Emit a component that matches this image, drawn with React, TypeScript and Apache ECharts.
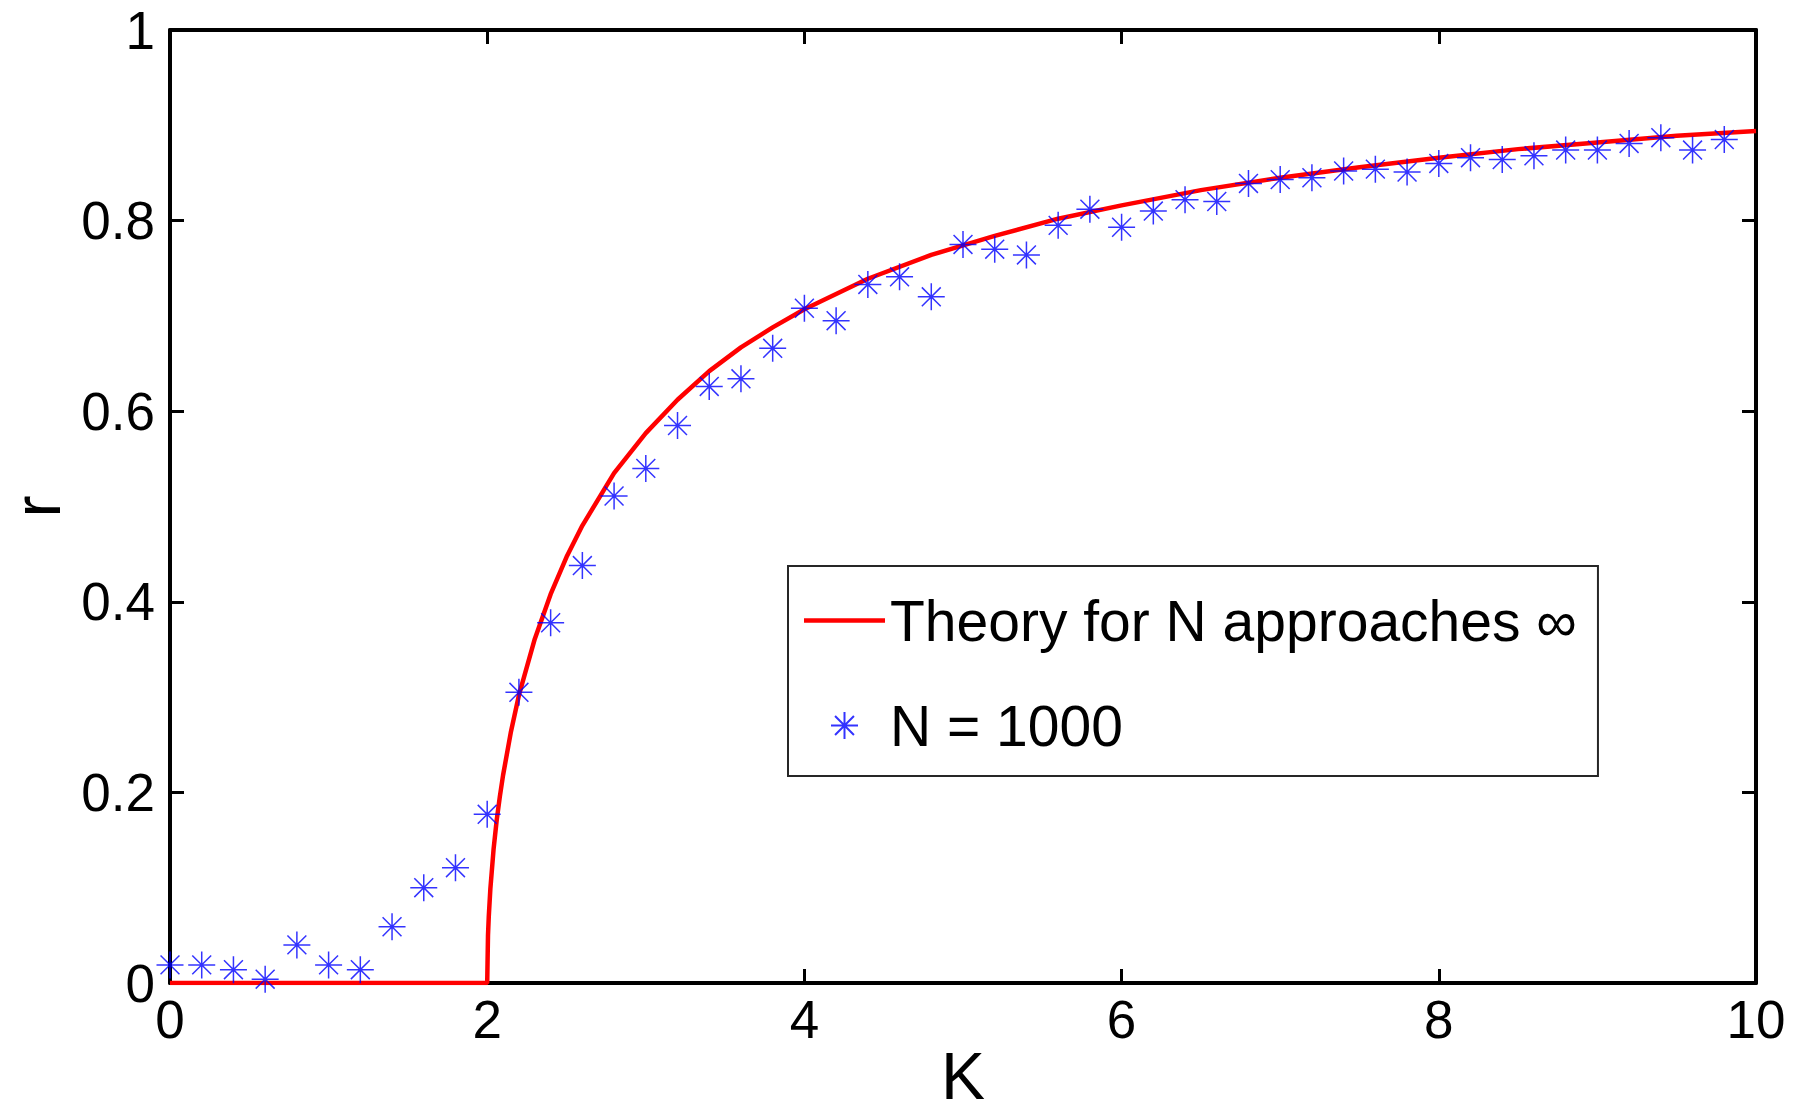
import React, { useEffect, useRef } from "react";
import * as echarts from "echarts";

const FONT = "'Liberation Sans', Arial, Helvetica, sans-serif";

// Simulation points (N = 1000)
const kSim = [
  0, 0.2, 0.4, 0.6, 0.8, 1.0, 1.2, 1.4, 1.6, 1.8,
  2.0, 2.2, 2.4, 2.6, 2.8, 3.0, 3.2, 3.4, 3.6, 3.8,
  4.0, 4.2, 4.4, 4.6, 4.8, 5.0, 5.2, 5.4, 5.6, 5.8,
  6.0, 6.2, 6.4, 6.6, 6.8, 7.0, 7.2, 7.4, 7.6, 7.8,
  8.0, 8.2, 8.4, 8.6, 8.8, 9.0, 9.2, 9.4, 9.6, 9.8,
];
const rSim = [
  0.019, 0.019, 0.014, 0.004, 0.040, 0.019, 0.014, 0.059, 0.100, 0.121,
  0.177, 0.305, 0.378, 0.438, 0.511, 0.540, 0.585, 0.626, 0.634, 0.666,
  0.708, 0.695, 0.733, 0.741, 0.720, 0.775, 0.770, 0.764, 0.795, 0.812,
  0.793, 0.810, 0.822, 0.820, 0.839, 0.843, 0.845, 0.852, 0.854, 0.851,
  0.860, 0.866, 0.864, 0.868, 0.874, 0.874, 0.881, 0.887, 0.874, 0.885,
];

// Theory curve
const kTheory = [
  0, 2, 2.005, 2.01, 2.02, 2.04, 2.06, 2.08, 2.1, 2.15, 2.2, 2.3, 2.4, 2.5,
  2.6, 2.8, 3.0, 3.2, 3.4, 3.6, 3.8, 4.0, 4.4, 4.8, 5.2, 5.6, 6.0, 6.5, 7.0,
  7.5, 8.0, 8.5, 9.0, 9.5, 10,
];
const rTheory = [
  0, 0, 0.05, 0.07, 0.099, 0.14, 0.171, 0.196, 0.218, 0.264, 0.302, 0.361,
  0.408, 0.447, 0.48, 0.535, 0.577, 0.612, 0.642, 0.667, 0.688, 0.707, 0.739,
  0.764, 0.784, 0.802, 0.816, 0.832, 0.845, 0.856, 0.866, 0.875, 0.882, 0.889,
  0.894,
];

const xTicks = { min: 0, max: 10, interval: 2 };
const yTicks = { min: 0, max: 1, interval: 0.2 };

const seriesNames = ["Theory for N approaches \u221E", "N = 1000"];
const xName = "K";
const yName = "r";

const STAR = "path://M0,-1L0,1M-1,0L1,0M-0.7,-0.7L0.7,0.7M-0.7,0.7L0.7,-0.7";
const LEGEND_LINE = "path://M0,0L81,0L81,4.5L0,4.5Z";

export default function App() {
  const ref = useRef<HTMLDivElement>(null);

  useEffect(() => {
    if (!ref.current) return;
    const chart = echarts.init(ref.current, null, { renderer: "svg" });

    const axisLine = { show: true, onZero: false, lineStyle: { color: "#000", width: 4 } };
    const axisTick = { show: true, inside: true, length: 14, lineStyle: { color: "#000", width: 3 } };

    chart.setOption({
      animation: false,
      backgroundColor: "#fff",
      grid: {
        left: 170,
        right: 46,
        top: 30,
        bottom: 134,
        containLabel: false,
        outerBoundsMode: "none",
      },
      xAxis: [
        {
          type: "value",
          ...xTicks,
          axisLine,
          axisTick,
          splitLine: { show: false },
          axisLabel: { fontSize: 53, color: "#000", fontFamily: FONT, margin: 10 },
          name: xName,
          nameLocation: "middle",
          nameGap: 63,
          nameMoveOverlap: false,
          nameTextStyle: { fontSize: 66, lineHeight: 60, color: "#000", fontFamily: FONT },
        },
        {
          type: "value",
          position: "top",
          ...xTicks,
          axisLine,
          axisTick,
          splitLine: { show: false },
          axisLabel: { show: false },
        },
      ],
      yAxis: [
        {
          type: "value",
          ...yTicks,
          axisLine,
          axisTick,
          splitLine: { show: false },
          axisLabel: { fontSize: 53, color: "#000", fontFamily: FONT, margin: 15 },
          name: yName,
          nameLocation: "middle",
          nameGap: 99,
          nameRotate: 90,
          nameTextStyle: { fontSize: 66, lineHeight: 60, color: "#000", fontFamily: FONT },
        },
        {
          type: "value",
          position: "right",
          ...yTicks,
          axisLine,
          axisTick,
          splitLine: { show: false },
          axisLabel: { show: false },
        },
      ],
      legend: {
        orient: "vertical",
        left: 788,
        top: 566,
        backgroundColor: "#fff",
        borderColor: "#262626",
        borderWidth: 2,
        borderRadius: 0,
        padding: [26, 21, 22, 16],
        itemGap: 48,
        itemWidth: 81,
        itemHeight: 27,
        symbolKeepAspect: true,
        textStyle: { fontSize: 57, color: "#000", fontFamily: FONT },
        data: [
          { name: seriesNames[0], icon: LEGEND_LINE },
          { name: seriesNames[1], icon: STAR },
        ],
      },
      series: [
        {
          name: seriesNames[0],
          type: "line",
          data: kTheory.map((k, i) => [k, rTheory[i]]),
          showSymbol: false,
          symbol: "none",
          smooth: false,
          lineStyle: { color: "#ff0000", width: 4.5 },
          itemStyle: { color: "#ff0000" },
          z: 2,
        },
        {
          name: seriesNames[1],
          type: "scatter",
          data: kSim.map((k, i) => [k, rSim[i]]),
          symbol: STAR,
          symbolSize: 27,
          itemStyle: { color: "transparent", borderColor: "#0000ff", borderWidth: 1.5 },
          z: 3,
        },
      ],
    });

    return () => chart.dispose();
  }, []);

  return (
    <div
      ref={ref}
      style={{ position: "fixed", left: 0, top: 0, width: 1802, height: 1117, background: "#fff" }}
    />
  );
}
